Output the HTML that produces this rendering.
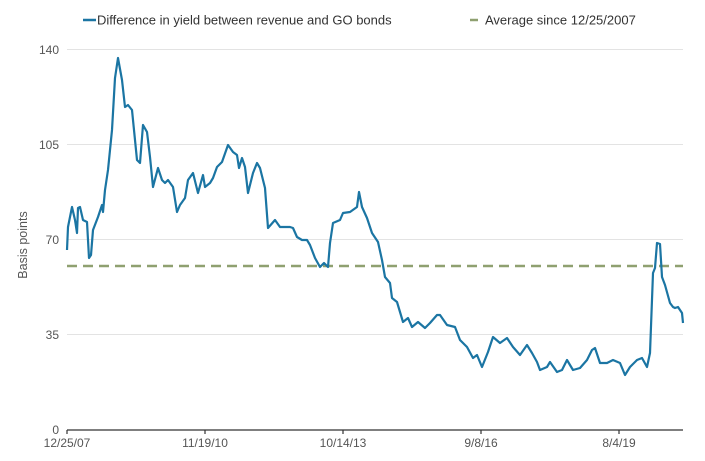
<!DOCTYPE html>
<html><head><meta charset="utf-8"><style>
body{margin:0;background:#fff;}
svg text{font-family:"Liberation Sans",sans-serif;}
</style></head><body>
<svg width="705" height="456" viewBox="0 0 705 456" xmlns="http://www.w3.org/2000/svg">
<g stroke="#e3e3e3" stroke-width="1">
<line x1="67" y1="49.5" x2="683" y2="49.5"/>
<line x1="67" y1="144.5" x2="683" y2="144.5"/>
<line x1="67" y1="239.5" x2="683" y2="239.5"/>
<line x1="67" y1="334.5" x2="683" y2="334.5"/>
</g>
<g font-size="12" fill="#555" text-anchor="end">
<text x="59" y="54">140</text>
<text x="59" y="149">105</text>
<text x="59" y="244">70</text>
<text x="59" y="339">35</text>
<text x="59" y="434">0</text>
</g>
<text transform="translate(27,245) rotate(-90)" font-size="12.5" fill="#555" text-anchor="middle">Basis points</text>
<line x1="67" y1="430" x2="683" y2="430" stroke="#333" stroke-width="1.3"/>
<g stroke="#333" stroke-width="1.2">
<line x1="67" y1="430" x2="67" y2="434"/><line x1="205" y1="430" x2="205" y2="434"/><line x1="343" y1="430" x2="343" y2="434"/><line x1="481" y1="430" x2="481" y2="434"/><line x1="619" y1="430" x2="619" y2="434"/>
</g>
<g font-size="12" fill="#555" text-anchor="middle">
<text x="67" y="447">12/25/07</text><text x="205" y="447">11/19/10</text><text x="343" y="447">10/14/13</text><text x="481" y="447">9/8/16</text><text x="619" y="447">8/4/19</text>
</g>
<line x1="67" y1="266" x2="683" y2="266" stroke="#8fa070" stroke-width="2.5" stroke-dasharray="10,6"/>
<polyline fill="none" stroke="#1b75a3" stroke-width="2.2" stroke-linejoin="round" points="67,250 68,227 72,207 75,220 77,233 78,208 80,207 83,220 87,222 89,258 91,255 93,230 98,217 102,205 103,212 105,190 108,170 112,130 115,78 118,58 122,80 125,107 128,105 132,110 137,160 140,163 143,125 147,132 150,157 153,187 158,168 162,180 165,183 168,180 173,187 177,212 180,205 185,198 188,180 193,173 198,193 203,175 205,187 210,183 213,178 217,167 222,162 228,145 233,152 237,155 239,168 242,158 245,167 248,193 253,173 257,163 260,168 265,188 268,228 275,220 280,227 285,227 290,227 293,228 297,237 302,240 307,240 310,245 315,258 320,267 324,263 328,267 330,243 333,223 340,220 343,213 350,212 357,207 359,192 362,207 367,218 372,233 378,242 382,260 385,277 390,283 392,298 397,302 403,322 408,318 412,327 418,322 425,328 430,323 437,315 440,315 447,325 455,327 460,340 467,347 473,358 477,355 482,367 488,352 493,337 500,343 507,338 513,347 520,355 527,345 532,353 537,362 540,370 547,367 550,362 557,372 562,370 567,360 573,370 580,368 587,360 592,350 595,348 600,363 607,363 613,360 620,363 625,375 630,367 637,360 642,358 647,367 650,353 653,273 655,268 657,243 660,244 662,277 665,285 670,303 673,307 675,308 678,307 682,313 683,323"/>
<line x1="83" y1="20" x2="96" y2="20" stroke="#1b75a3" stroke-width="2.5"/>
<text x="97" y="24.5" font-size="13" fill="#333">Difference in yield between revenue and GO bonds</text>
<line x1="470" y1="20" x2="478" y2="20" stroke="#8fa070" stroke-width="2.5"/>
<text x="485" y="24.5" font-size="13" fill="#333">Average since 12/25/2007</text>
</svg>
</body></html>
